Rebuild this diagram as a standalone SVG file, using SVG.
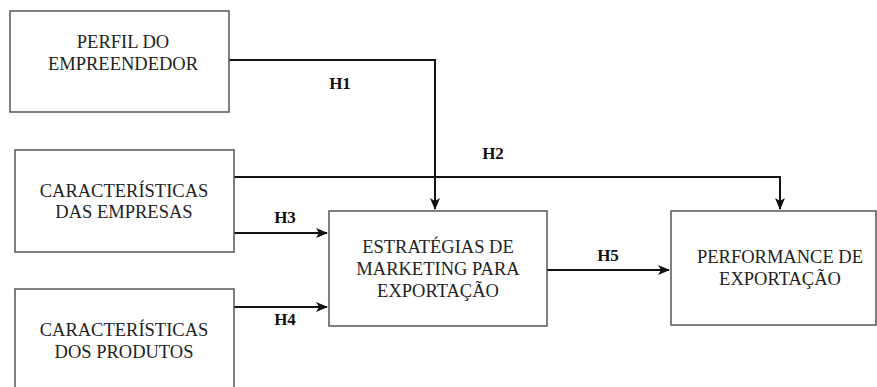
<svg xmlns="http://www.w3.org/2000/svg" width="877" height="387" viewBox="0 0 877 387">
<style>
.box{fill:#fff;stroke:#555;stroke-width:1.5}
.t{font-size:18.5px;fill:#222;text-anchor:middle}
.h{font-size:17px;font-weight:bold;fill:#111;text-anchor:middle}
.c{fill:none;stroke:#111;stroke-width:2}
</style>
<defs>
<marker id="arr" viewBox="0 0 12 10" refX="11" refY="5" markerWidth="12" markerHeight="10" markerUnits="userSpaceOnUse" orient="auto" overflow="visible">
<path d="M0,0 L12,5 L0,10 L3,5 Z" fill="#111"/>
</marker>
</defs>
<rect width="877" height="387" fill="#fff"/>
<g id="connectors">
<path class="c" d="M229,60 H435 V209" marker-end="url(#arr)"/>
<path class="c" d="M234,177 H780 V209" marker-end="url(#arr)"/>
<path class="c" d="M234,233 H327" marker-end="url(#arr)"/>
<path class="c" d="M234,307 H327" marker-end="url(#arr)"/>
<path class="c" d="M547,270 H669" marker-end="url(#arr)"/>
<text class="h" font-family="Liberation Serif" x="340" y="89">H1</text>
<text class="h" font-family="Liberation Serif" x="493" y="159">H2</text>
<text class="h" font-family="Liberation Serif" x="285" y="223">H3</text>
<text class="h" font-family="Liberation Serif" x="285" y="325">H4</text>
<text class="h" font-family="Liberation Serif" x="608" y="261">H5</text>
</g>
<g id="perfil">
<rect class="box" x="10" y="11" width="219" height="101"/>
<text class="t" font-family="Liberation Serif" x="123" y="48">PERFIL DO</text>
<text class="t" font-family="Liberation Serif" x="123" y="70">EMPREENDEDOR</text>
</g>
<g id="empresas">
<rect class="box" x="15" y="150" width="219" height="102"/>
<text class="t" font-family="Liberation Serif" x="124" y="197">CARACTERÍSTICAS</text>
<text class="t" font-family="Liberation Serif" x="124" y="218">DAS EMPRESAS</text>
</g>
<g id="produtos">
<rect class="box" x="15" y="289" width="219" height="110"/>
<text class="t" font-family="Liberation Serif" x="124" y="336">CARACTERÍSTICAS</text>
<text class="t" font-family="Liberation Serif" x="124" y="358">DOS PRODUTOS</text>
</g>
<g id="estrategias">
<rect class="box" x="329" y="211" width="218" height="115"/>
<text class="t" font-family="Liberation Serif" x="438" y="253">ESTRATÉGIAS DE</text>
<text class="t" font-family="Liberation Serif" x="438" y="275">MARKETING PARA</text>
<text class="t" font-family="Liberation Serif" x="438" y="297">EXPORTAÇÃO</text>
</g>
<g id="performance">
<rect class="box" x="671" y="211" width="205" height="114"/>
<text class="t" font-family="Liberation Serif" x="780" y="263">PERFORMANCE DE</text>
<text class="t" font-family="Liberation Serif" x="780" y="285">EXPORTAÇÃO</text>
</g>
</svg>
